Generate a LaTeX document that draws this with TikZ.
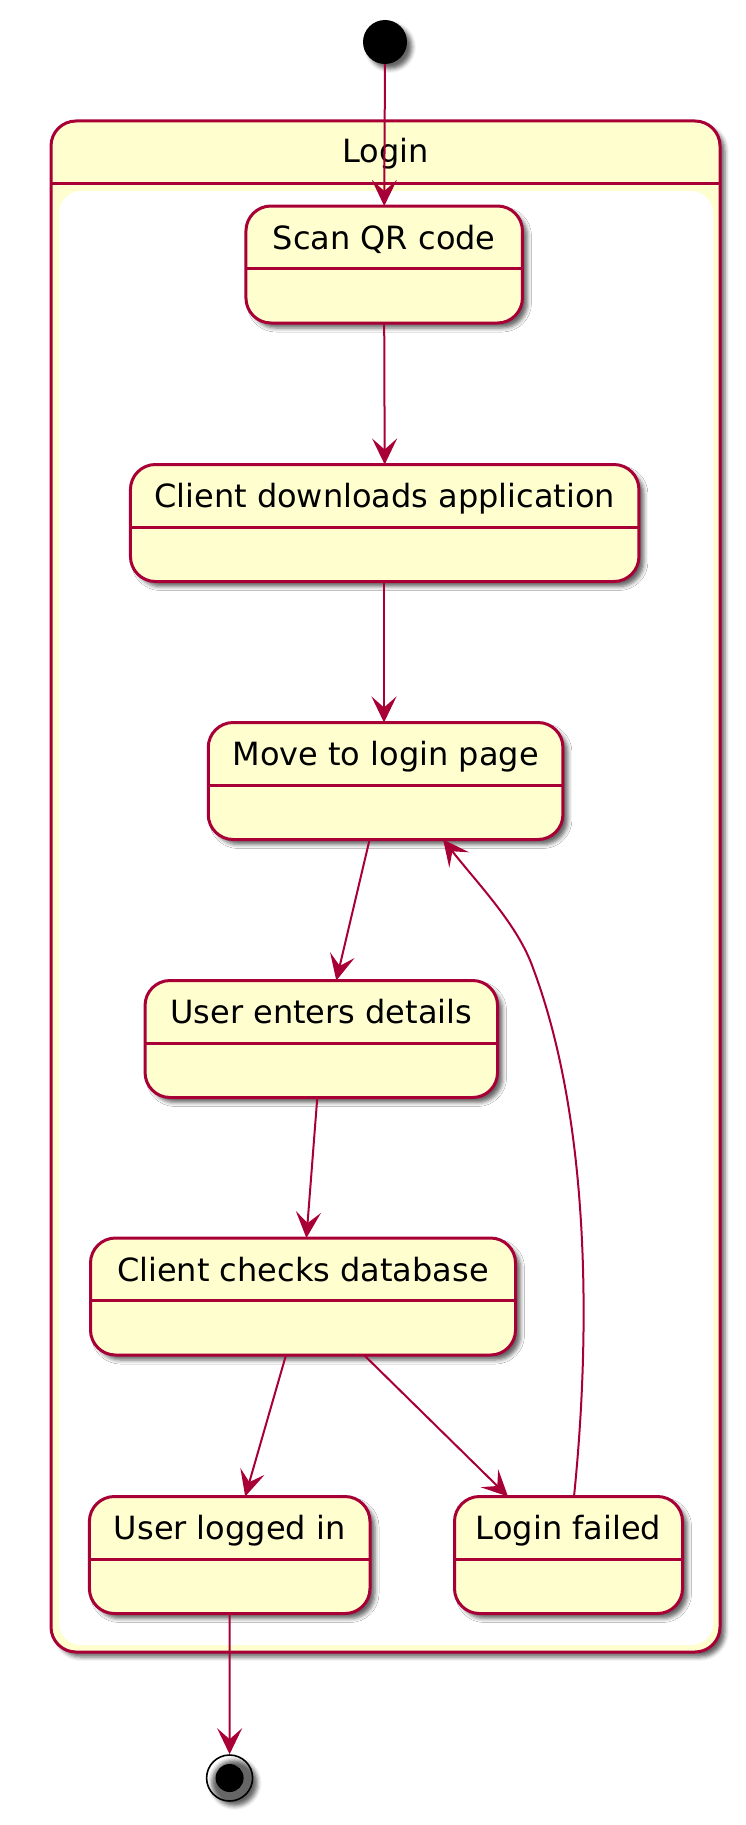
\documentclass[tikz,border=0pt]{standalone}
\usepackage{fontspec}
\setmainfont{DejaVu Sans}
\usetikzlibrary{arrows.meta,shadows,shadows.blur}
\definecolor{pumlred}{HTML}{A80036}
\definecolor{pumlfill}{HTML}{FEFECE}
\tikzset{
  myshadow/.style={blur shadow={shadow xshift=5pt, shadow yshift=-5pt, shadow blur radius=4pt, shadow opacity=60}},
  stbox/.style={draw=pumlred, fill=pumlfill, line width=3pt, rounded corners=25pt, minimum height=117pt, inner sep=0pt, outer sep=0pt, myshadow},
  outerbox/.style={draw=pumlred, fill=pumlfill, line width=3pt, rounded corners=25pt, inner sep=0pt, outer sep=0pt, myshadow},
  innerbox/.style={fill=white, rounded corners=22pt, inner sep=0pt, outer sep=0pt},
  divline/.style={draw=pumlred, line width=3pt},
  sttext/.style={anchor=base, inner sep=0pt, font=\fontsize{32}{38}\selectfont},
  trans/.style={draw=pumlred, line width=2pt, -{Stealth[length=26pt,width=25pt,inset=11pt]}},
}
\begin{document}
\begin{tikzpicture}[x=1pt,y=-1pt]
\useasboundingbox (0,0) rectangle (746,1825);
% composite state
\node[outerbox, minimum width=669pt, minimum height=1531pt] (login) at (385.5,886.5) {};
\draw[divline] ([yshift=-62pt]login.north west) -- ([yshift=-62pt]login.north east);
\node[innerbox, minimum width=654pt, minimum height=1454pt] (loginin) at (386,918) {};
\node[sttext] (logint) at ([yshift=-41pt]login.north) {Login};
% start
\node[circle, fill=black, minimum size=44pt, inner sep=0pt, myshadow] (start) at (385,42) {};
% states
\node[stbox, minimum width=276.5pt] (scan) at (384.2,264.5) {};
\draw[divline] ([yshift=-62.5pt]scan.north west) -- ([yshift=-62.5pt]scan.north east);
\node[sttext] (scant) at ([yshift=-43pt]scan.north) {Scan QR code};

\node[stbox, minimum width=508.5pt] (cda) at (384.7,523) {};
\draw[divline] ([yshift=-62.5pt]cda.north west) -- ([yshift=-62.5pt]cda.north east);
\node[sttext] (cdat) at ([yshift=-43pt]cda.north) {Client downloads application};

\node[stbox, minimum width=354.7pt] (move) at (385.6,781) {};
\draw[divline] ([yshift=-62.5pt]move.north west) -- ([yshift=-62.5pt]move.north east);
\node[sttext] (movet) at ([yshift=-43pt]move.north) {Move to login page};

\node[stbox, minimum width=352.5pt] (ued) at (321.3,1039) {};
\draw[divline] ([yshift=-62.5pt]ued.north west) -- ([yshift=-62.5pt]ued.north east);
\node[sttext] (uedt) at ([yshift=-43pt]ued.north) {User enters details};

\node[stbox, minimum width=425pt] (ccd) at (303,1296.5) {};
\draw[divline] ([yshift=-62.5pt]ccd.north west) -- ([yshift=-62.5pt]ccd.north east);
\node[sttext] (ccdt) at ([yshift=-43pt]ccd.north) {Client checks database};

\node[stbox, minimum width=280.6pt] (uli) at (229.7,1555) {};
\draw[divline] ([yshift=-62.5pt]uli.north west) -- ([yshift=-62.5pt]uli.north east);
\node[sttext] (ulit) at ([yshift=-43pt]uli.north) {User logged in};

\node[stbox, minimum width=228pt] (lf) at (568.5,1555) {};
\draw[divline] ([yshift=-62.5pt]lf.north west) -- ([yshift=-62.5pt]lf.north east);
\node[sttext] (lft) at ([yshift=-43pt]lf.north) {Login failed};
% end
\node[circle, draw=black, line width=1.6pt, minimum size=46pt, inner sep=0pt, myshadow] (end) at (229.6,1778) {};
\node[circle, fill=black, minimum size=28pt, inner sep=0pt] (endin) at (end.center) {};
% transitions
\draw[trans] (start.south) -- (scan.north);
\draw[trans] (scan.south) -- (cda.north);
\draw[trans] ([xshift=-0.7pt]cda.south) -- ([xshift=-1.6pt]move.north);
\draw[trans] ([xshift=-16pt]move.south) -- ([xshift=15pt]ued.north);
\draw[trans] ([xshift=-4pt]ued.south) -- ([xshift=3.4pt]ccd.north);
\draw[trans] ([xshift=-17pt]ccd.south) -- ([xshift=15.5pt]uli.north);
\draw[trans] ([xshift=61pt]ccd.south) -- ([xshift=-60.5pt]lf.north);
\coordinate (via) at (533,968);
\draw[trans] ([xshift=5.5pt]lf.north) .. controls (591,1330) and (590,1120) .. (via) .. controls (518,925) and (478,884) .. ([xshift=57.5pt]move.south);
\draw[trans] (uli.south) -- (end.north);
\end{tikzpicture}
\end{document}
